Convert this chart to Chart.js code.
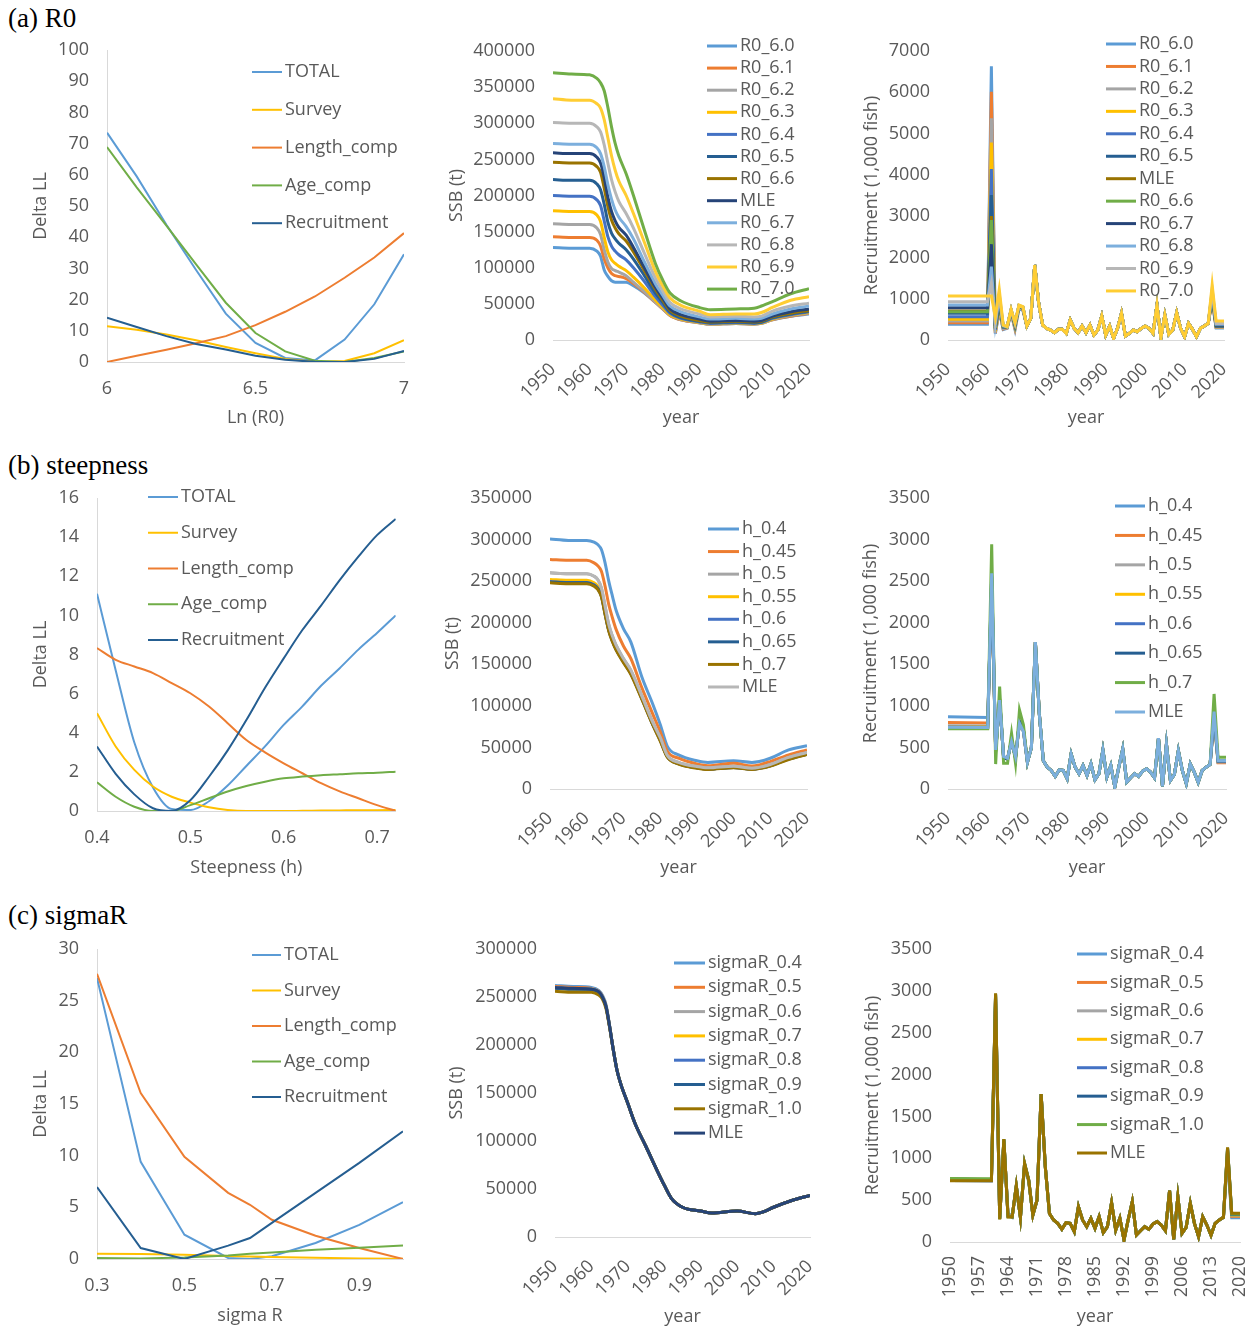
<!DOCTYPE html>
<html>
<head>
<meta charset="utf-8">
<script src="https://cdn.jsdelivr.net/npm/chart.js@4.4.1/dist/chart.umd.min.js"></script>
<style>
  body { margin: 0; background: #fff; width: 1260px; height: 1331px; position: relative; overflow: hidden; }
  canvas { position: absolute; }
  .tag { position: absolute; left: 8px; font: 27px "Liberation Serif", "Times New Roman", serif; color: #000; line-height: 1; }
</style>
</head>
<body>
<div class="tag" style="top:5px">(a) R0</div>
<div class="tag" style="top:452px">(b) steepness</div>
<div class="tag" style="top:902px">(c) sigmaR</div>
<script>
// ---------- likelihood profiles ----------
const llNames = ['TOTAL', 'Survey', 'Length_comp', 'Age_comp', 'Recruitment'];
const llColors = ['#5B9BD5', '#FFC000', '#ED7D31', '#70AD47', '#255E91'];

const r0Grid = [6.0, 6.1, 6.2, 6.3, 6.4, 6.5, 6.6, 6.7, 6.8, 6.9, 7.0];
const r0Ll = [
  [73.5, 59.5, 44, 29.5, 15.5, 6.1, 1.3, 0.5, 7.2, 18.5, 34.5],
  [11.5, 10.3, 8.8, 7, 4.8, 2.8, 1, 0.1, 0.3, 2.8, 7],
  [0, 2, 3.9, 6, 8.3, 11.8, 16.1, 21, 27, 33.5, 41.3],
  [68.9, 56, 43.7, 31.3, 19, 9.3, 3.4, 0.4, 0, 1.3, 3.4],
  [14.2, 11.2, 8.3, 5.8, 4, 2, 0.7, 0.05, 0, 1, 3.5]
];

const hGrid = [0.40, 0.42, 0.44, 0.46, 0.48, 0.50, 0.52, 0.54, 0.56, 0.58, 0.60, 0.62, 0.64, 0.66, 0.68, 0.70, 0.72];
const hLl = [
  [11.1, 7.2, 3.5, 1.2, 0.1, 0.05, 0.5, 1.3, 2.3, 3.3, 4.4, 5.35, 6.4, 7.3, 8.25, 9.1, 10.0],
  [5.0, 3.3, 2.1, 1.25, 0.73, 0.43, 0.19, 0.05, 0, 0, 0, 0.01, 0.02, 0.03, 0.04, 0.04, 0.05],
  [8.33, 7.73, 7.39, 7.05, 6.54, 6.02, 5.34, 4.49, 3.63, 3.0, 2.44, 1.93, 1.42, 1.0, 0.65, 0.3, 0],
  [1.47, 0.73, 0.22, 0, 0, 0.3, 0.65, 1.0, 1.28, 1.5, 1.67, 1.76, 1.83, 1.88, 1.93, 1.96, 2.01],
  [3.3, 1.9, 0.85, 0.14, 0, 0.55, 1.75, 3.1, 4.65, 6.3, 7.8, 9.25, 10.5, 11.8, 13.0, 14.1, 14.93]
];

const sigmaGrid = [0.3, 0.4, 0.5, 0.6, 0.65, 0.7, 0.8, 0.9, 1.0];
const sigmaLl = [
  [27.2, 9.4, 2.35, 0.1, 0, 0.26, 1.55, 3.3, 5.5],
  [0.52, 0.48, 0.4, 0.3, 0.25, 0.2, 0.12, 0.05, 0.02],
  [27.6, 16.05, 9.9, 6.4, 5.25, 3.8, 2.25, 1.06, 0],
  [0.1, 0.05, 0.15, 0.35, 0.5, 0.62, 0.9, 1.1, 1.3],
  [6.96, 1.06, 0, 1.29, 2.03, 3.5, 6.4, 9.3, 12.35]
];

// ---------- SSB ----------
const ssbYears = [1950, 1955, 1960, 1962, 1963, 1964, 1965, 1966, 1967, 1968, 1970, 1972, 1975, 1978, 1980, 1982, 1985, 1990, 1993, 2000, 2005, 2007, 2010, 2015, 2020];

const r0SsbNames = ['R0_6.0', 'R0_6.1', 'R0_6.2', 'R0_6.3', 'R0_6.4', 'R0_6.5', 'R0_6.6', 'MLE', 'R0_6.7', 'R0_6.8', 'R0_6.9', 'R0_7.0'];
const r0SsbColors = ['#5B9BD5', '#ED7D31', '#A5A5A5', '#FFC000', '#4472C4', '#255E91', '#997300', '#264478', '#7CAFDD', '#B7B7B7', '#FFCD33', '#70AD47'];
const r0Ssb = [
  [128000, 127000, 127000, 123000, 116000, 97000, 88000, 82000, 80000, 80000, 80000, 75000, 65000, 52000, 43000, 34000, 28000, 24000, 22000, 23000, 22000, 23000, 28000, 33000, 36000],
  [143000, 142000, 142000, 138000, 130000, 112000, 100000, 92000, 89000, 88000, 85000, 78000, 66000, 52000, 43000, 34000, 28000, 24000, 22000, 23000, 22000, 23000, 28000, 33000, 37000],
  [161000, 160000, 160000, 155000, 146000, 125000, 108000, 99000, 96000, 94000, 89000, 80000, 67000, 52500, 43500, 34500, 28500, 24000, 22000, 23000, 22000, 23000, 28500, 34000, 37500],
  [179000, 178000, 178000, 173000, 164000, 142000, 122000, 111000, 106000, 102000, 96000, 87000, 72000, 55000, 45000, 35000, 29000, 24500, 22500, 23500, 22500, 23500, 29000, 34500, 38000],
  [200000, 199000, 199000, 194000, 186000, 165000, 143000, 130000, 123000, 118000, 111000, 100000, 81000, 60000, 48000, 37000, 30000, 25000, 23000, 24000, 23000, 24000, 30000, 35000, 39000],
  [222000, 221000, 221000, 216000, 208000, 188000, 163000, 148000, 140000, 134000, 125000, 112000, 89000, 65000, 52000, 39000, 31000, 26000, 24000, 25000, 24000, 25000, 31000, 36000, 40000],
  [246000, 245000, 245000, 240000, 232000, 210000, 185000, 166000, 155000, 147000, 137000, 122000, 96000, 70000, 55000, 41000, 33000, 27000, 25000, 26000, 25000, 26000, 32000, 37000, 41000],
  [259000, 258000, 258000, 253000, 245000, 225000, 198000, 178000, 165000, 156000, 145000, 128000, 100000, 73000, 58000, 43000, 35000, 29000, 26000, 27000, 26000, 27000, 33000, 39000, 43000],
  [272000, 271000, 271000, 266000, 258000, 240000, 215000, 195000, 180000, 170000, 157000, 140000, 108000, 78000, 62000, 47000, 39000, 32000, 29000, 30000, 29000, 30000, 36000, 43000, 47000],
  [301000, 300000, 300000, 295000, 288000, 270000, 245000, 222000, 205000, 192000, 175000, 155000, 120000, 86000, 68000, 52000, 43000, 36000, 32000, 33000, 32000, 33000, 40000, 47000, 51000],
  [334000, 332000, 332000, 327000, 321000, 305000, 280000, 255000, 235000, 220000, 200000, 175000, 135000, 95000, 75000, 58000, 48000, 40000, 35000, 36000, 36000, 38000, 45000, 55000, 60000],
  [370000, 368000, 367000, 362000, 356000, 345000, 322000, 295000, 272000, 255000, 230000, 200000, 152000, 106000, 83000, 65000, 54000, 45000, 42000, 43000, 44000, 47000, 53000, 64000, 71000]
];

const hNames = ['h_0.4', 'h_0.45', 'h_0.5', 'h_0.55', 'h_0.6', 'h_0.65', 'h_0.7', 'MLE'];
const hSsbColors = ['#5B9BD5', '#ED7D31', '#A5A5A5', '#FFC000', '#4472C4', '#255E91', '#997300', '#B7B7B7'];
const hSsb = [
  [300700, 299000, 299000, 297000, 294000, 288000, 272000, 250000, 232000, 215000, 193000, 177000, 135000, 102000, 78000, 51000, 41000, 34000, 32000, 34000, 32000, 33000, 37000, 47000, 52000],
  [276000, 275000, 275000, 272000, 268600, 262000, 244000, 222000, 206000, 192000, 172000, 157000, 122000, 90000, 69000, 45000, 37000, 30000, 28000, 31000, 27700, 29000, 33000, 41000, 47000],
  [260000, 259000, 259000, 256000, 252000, 242000, 220000, 198000, 184000, 173000, 157000, 143000, 112000, 80000, 62000, 40000, 32000, 27000, 25500, 27500, 25000, 26000, 29500, 38000, 44000],
  [252000, 251000, 251000, 248000, 244000, 235000, 213000, 193000, 179000, 169000, 154000, 140000, 110000, 78000, 60000, 39000, 31000, 26000, 24500, 26500, 24500, 25500, 28500, 37000, 43000],
  [249500, 248500, 248500, 245500, 241500, 233000, 211000, 191000, 178000, 168000, 153000, 139000, 109000, 77500, 59000, 38500, 30500, 25500, 24000, 26000, 24000, 25000, 28000, 36500, 42500],
  [249000, 248000, 248000, 245000, 241000, 232000, 211000, 191000, 178000, 168000, 153000, 139000, 109000, 77500, 59000, 38500, 30500, 25500, 24000, 26000, 24000, 25000, 28000, 36000, 42000],
  [248000, 247000, 247000, 244000, 240000, 231000, 210000, 190000, 177000, 167000, 152000, 138000, 108000, 77000, 58000, 38000, 30000, 25000, 23500, 25500, 23500, 24500, 27500, 35500, 41500],
  [260000, 259000, 259000, 256000, 252000, 242000, 220000, 198000, 184000, 173000, 157000, 143000, 112000, 80000, 62000, 40000, 32000, 27000, 25500, 27500, 25000, 26000, 29500, 38000, 44000]
];

const sigmaNames = ['sigmaR_0.4', 'sigmaR_0.5', 'sigmaR_0.6', 'sigmaR_0.7', 'sigmaR_0.8', 'sigmaR_0.9', 'sigmaR_1.0', 'MLE'];
const sigmaSsbColors = ['#5B9BD5', '#ED7D31', '#A5A5A5', '#FFC000', '#4472C4', '#255E91', '#997300', '#264478'];
// 1950-1965 per run, then the shared path from 1966 on
const sigmaSsbHeads = [
  [262000, 261000, 260000, 257000, 252000, 242000, 220000],
  [261000, 260000, 259000, 256000, 251000, 241000, 219500],
  [260000, 259000, 258500, 255500, 250500, 240500, 219000],
  [259000, 258000, 258000, 255000, 250000, 240000, 219000],
  [259500, 258500, 258000, 255000, 250000, 240000, 219000],
  [259000, 258000, 258000, 255000, 250000, 240000, 219000],
  [256000, 255000, 255000, 252000, 248000, 238000, 218000],
  [260000, 259000, 258000, 255500, 250000, 240000, 219000]
];
const sigmaSsbTail = [195000, 174000, 160000, 139000, 118000, 94000, 69500, 54000, 40000, 31000, 27000, 25000, 27000, 24300, 26000, 31000, 38000, 43400];

// ---------- recruitment ----------
const recYears = [1950, 1960, 1961, 1962, 1963, 1964, 1965, 1966, 1967, 1968, 1969, 1970, 1971, 1972, 1973, 1974, 1975, 1976, 1977, 1978, 1979,
  1980, 1981, 1982, 1983, 1984, 1985, 1986, 1987, 1988, 1989, 1990, 1991, 1992, 1993, 1994, 1995, 1996, 1997, 1998, 1999,
  2000, 2001, 2002, 2003, 2004, 2005, 2006, 2007, 2008, 2009, 2010, 2011, 2012, 2013, 2014, 2015, 2016, 2017, 2018, 2019, 2020];
// 1970-2016, where the runs lie on top of each other
const recMid = [322, 500, 1767, 900, 340, 263, 223, 151, 231, 223, 123, 422, 263, 183, 283, 163, 302, 111, 183, 470,
  143, 283, 24, 263, 482, 84, 135, 183, 151, 215, 243, 203, 135, 613, 32, 541, 103, 175, 462, 223, 64, 302, 203, 80, 223, 263, 295];
const recMidR0 = [339, 525, 1816, 888, 363, 282, 242, 178, 258, 258, 161, 484, 282, 178, 339, 178, 363, 121, 242, 581,
  121, 339, 40, 282, 646, 97, 161, 242, 202, 282, 339, 282, 161, 847, 56, 605, 137, 242, 662, 282, 81, 403, 258, 81, 282, 339, 403];

const r0RecNames = ['R0_6.0', 'R0_6.1', 'R0_6.2', 'R0_6.3', 'R0_6.4', 'R0_6.5', 'MLE', 'R0_6.6', 'R0_6.7', 'R0_6.8', 'R0_6.9', 'R0_7.0'];
const r0RecColors = ['#5B9BD5', '#ED7D31', '#A5A5A5', '#FFC000', '#4472C4', '#255E91', '#997300', '#70AD47', '#264478', '#7CAFDD', '#B7B7B7', '#FFCD33'];
// years 1950, 1960-1969
const r0RecHeads = [
  [380, 380, 6630, 150, 700, 250, 280, 650, 250, 760, 720],
  [420, 420, 6010, 170, 730, 270, 290, 670, 280, 780, 740],
  [460, 460, 5370, 190, 760, 280, 300, 690, 300, 790, 750],
  [500, 500, 4780, 210, 800, 300, 300, 700, 320, 800, 760],
  [565, 565, 4140, 240, 850, 310, 310, 710, 340, 810, 770],
  [645, 645, 3510, 270, 900, 320, 310, 720, 360, 820, 780],
  [700, 700, 3000, 290, 940, 330, 315, 725, 370, 825, 785],
  [686, 686, 2905, 300, 950, 330, 315, 725, 370, 825, 785],
  [783, 783, 2320, 340, 1000, 340, 320, 730, 390, 830, 790],
  [847, 847, 1775, 380, 1060, 345, 320, 735, 400, 835, 795],
  [928, 928, 1370, 430, 1120, 355, 322, 740, 410, 840, 800],
  [1065, 1065, 1065, 560, 1227, 363, 323, 742, 420, 847, 807]
];
// years 2017-2020
const r0RecTails = [
  [950, 290, 290, 290], [980, 300, 300, 300], [1000, 310, 310, 310], [1020, 320, 320, 320],
  [1050, 330, 330, 330], [1080, 340, 340, 340], [1100, 345, 345, 345], [1110, 350, 350, 350],
  [1140, 360, 360, 360], [1180, 380, 380, 380], [1230, 400, 400, 400], [1332, 460, 460, 460]
];

const hRecColors = ['#5B9BD5', '#ED7D31', '#A5A5A5', '#FFC000', '#4472C4', '#255E91', '#70AD47', '#7CAFDD'];
const hRecHeads = [
  [870, 860, 2400, 480, 1050, 390, 370, 570, 390, 790, 690],
  [800, 795, 2450, 470, 1060, 385, 370, 575, 385, 795, 695],
  [760, 758, 2500, 465, 1070, 380, 365, 580, 380, 800, 700],
  [750, 748, 2520, 460, 1075, 378, 365, 582, 378, 805, 705],
  [745, 743, 2550, 455, 1080, 375, 362, 585, 375, 810, 710],
  [740, 738, 2570, 450, 1085, 372, 360, 588, 372, 815, 715],
  [726, 724, 2943, 300, 1231, 310, 310, 670, 310, 950, 770],
  [742, 740, 2594, 470, 1070, 390, 370, 570, 390, 790, 690]
];
const hRecTails = [
  [850, 320, 320, 320], [870, 317, 317, 317], [880, 325, 325, 325], [890, 330, 330, 330],
  [900, 335, 335, 335], [910, 338, 338, 338], [1143, 381, 381, 381], [930, 341, 341, 341]
];

const sigmaRecColors = ['#5B9BD5', '#ED7D31', '#A5A5A5', '#FFC000', '#4472C4', '#255E91', '#70AD47', '#997300'];
const sigmaRecHeads = [
  [760, 740, 2900, 300, 1200, 350, 300, 650, 300, 900, 720],
  [745, 735, 2930, 290, 1210, 330, 300, 660, 295, 920, 730],
  [740, 735, 2940, 285, 1215, 320, 300, 665, 292, 925, 735],
  [738, 734, 2950, 280, 1220, 315, 300, 668, 291, 930, 737],
  [736, 733, 2955, 278, 1222, 310, 300, 670, 290, 935, 738],
  [735, 733, 2960, 275, 1225, 305, 300, 671, 290, 938, 739],
  [760, 755, 2965, 272, 1228, 302, 300, 672, 290, 940, 740],
  [732, 732, 2970, 270, 1230, 300, 300, 673, 290, 940, 740]
];
const sigmaRecTails = [
  [1000, 290, 290, 290], [1050, 305, 305, 305], [1080, 315, 315, 315], [1100, 320, 320, 320],
  [1110, 325, 325, 325], [1120, 330, 330, 330], [1125, 335, 335, 335], [1130, 342, 342, 342]
];

// ---------- tick labels ----------
const decadeTicks = [1950, 1960, 1970, 1980, 1990, 2000, 2010, 2020];
const sevenYearTicks = [1950, 1957, 1964, 1971, 1978, 1985, 1992, 1999, 2006, 2013, 2020];
const r0Ticks = [6, 6.5, 7];
const hTicks = [0.4, 0.5, 0.6, 0.7];
const sigmaTicks = [0.3, 0.5, 0.7, 0.9];

// ---------- drawing ----------
const FAMILY = "'Open Sans', 'Noto Sans', sans-serif";
const FS = 18;
const TXT = '#595959';
const AXIS = '#D9D9D9';

const sideLegend = {
  id: 'sideLegend',
  afterDraw(chart, args, opts) {
    const ctx = chart.ctx;
    ctx.save();
    ctx.font = `${FS}px ${FAMILY}`;
    ctx.fillStyle = TXT;
    ctx.textBaseline = 'middle';
    chart.data.datasets.forEach((ds, i) => {
      const y = opts.y + i * opts.dy;
      ctx.strokeStyle = ds.borderColor;
      ctx.lineWidth = ds.borderWidth;
      ctx.beginPath();
      ctx.moveTo(opts.x, y);
      ctx.lineTo(opts.x + opts.len, y);
      ctx.stroke();
      ctx.fillText(ds.label, opts.x + opts.len + 3, y);
    });
    ctx.restore();
  }
};

// cell = canvas box on the page; plot = wanted chart area (page px)
function panel(p) {
  const [cx, cy, cw, ch] = p.cell;
  const [L, R, T, B] = p.plot;
  const cv = document.createElement('canvas');
  cv.width = cw;
  cv.height = ch;
  cv.style.left = cx + 'px';
  cv.style.top = cy + 'px';
  document.body.appendChild(cv);

  const half = FS * 1.2 / 2;
  const scaleLeft = p.yTitleX - half;
  const scaleBottom = p.xTitleY + half;
  const wY = L - scaleLeft;
  const hX = scaleBottom - B;
  const font = { family: FAMILY, size: FS };

  new Chart(cv, {
    type: 'line',
    data: {
      labels: p.labels,
      datasets: p.series.map((d, i) => ({
        label: p.names[i],
        data: d,
        borderColor: p.colors[i],
        backgroundColor: p.colors[i],
        borderWidth: p.lw,
        pointRadius: 0,
        pointHoverRadius: 0,
        fill: false,
        tension: 0,
        cubicInterpolationMode: p.smooth ? 'monotone' : 'default',
        order: p.series.length - i
      }))
    },
    options: {
      responsive: false,
      animation: false,
      devicePixelRatio: 1,
      events: [],
      layout: { padding: { left: scaleLeft - cx, right: cx + cw - R, top: T - cy, bottom: cy + ch - scaleBottom } },
      plugins: {
        legend: { display: false },
        tooltip: { enabled: false },
        sideLegend: { x: p.legend[0] - cx, y: p.legend[1] - cy, dy: p.legend[2], len: p.legend[3] }
      },
      scales: {
        x: {
          type: 'linear',
          min: p.xMin,
          max: p.xMax,
          grid: { display: false, drawTicks: false },
          border: { display: true, color: AXIS, width: 1 },
          ticks: {
            color: TXT, font, padding: p.xPad, autoSkip: false,
            minRotation: p.rot, maxRotation: p.rot,
            callback: v => String(v)
          },
          afterBuildTicks: s => { s.ticks = p.xTicks.map(v => ({ value: v })); },
          afterFit: s => { s.height = hX; },
          title: { display: true, text: p.xTitle, color: TXT, font, padding: 0 }
        },
        y: {
          min: 0,
          max: p.yMax,
          grid: { display: false, drawTicks: false },
          border: { display: p.yBorder, color: AXIS, width: 1 },
          ticks: { stepSize: p.yStep, color: TXT, font, padding: 18, callback: v => String(v) },
          afterFit: s => { s.width = wY; },
          title: { display: true, text: p.yTitle, color: TXT, font, padding: 0 }
        }
      }
    },
    plugins: [sideLegend]
  });
}

const join = (heads, mid, tails) => heads.map((h, i) => [...h, ...mid, ...tails[i]]);

// row (a)
panel({
  cell: [0, 0, 460, 440], plot: [107, 404, 50, 362], yTitleX: 41, xTitleY: 418,
  labels: r0Grid, series: r0Ll, names: llNames, colors: llColors, lw: 2,
  xMin: 6, xMax: 7, xTicks: r0Ticks, yMax: 100, yStep: 10, rot: 0, xPad: 16, yBorder: true,
  xTitle: 'Ln (R0)', yTitle: 'Delta LL', legend: [252, 72, 37.8, 30]
});
panel({
  cell: [420, 0, 440, 440], plot: [553, 809, 51, 340], yTitleX: 457, xTitleY: 418,
  labels: ssbYears, series: r0Ssb, names: r0SsbNames, colors: r0SsbColors, lw: 3, smooth: true,
  xMin: 1950, xMax: 2020, xTicks: decadeTicks, yMax: 400000, yStep: 50000, rot: 45, xPad: 19, yBorder: false,
  xTitle: 'year', yTitle: 'SSB (t)', legend: [707, 46, 22.1, 30]
});
panel({
  cell: [840, 0, 440, 440], plot: [948, 1224, 51, 340], yTitleX: 872, xTitleY: 418,
  labels: recYears, series: join(r0RecHeads, recMidR0, r0RecTails), names: r0RecNames, colors: r0RecColors, lw: 3,
  xMin: 1950, xMax: 2020, xTicks: decadeTicks, yMax: 7000, yStep: 1000, rot: 45, xPad: 19, yBorder: false,
  xTitle: 'year', yTitle: 'Recruitment (1,000 fish)', legend: [1106, 44, 22.45, 30]
});

// row (b)
panel({
  cell: [0, 445, 460, 438], plot: [97, 395.7, 498, 811], yTitleX: 41, xTitleY: 868,
  labels: hGrid, series: hLl, names: llNames, colors: llColors, lw: 2, smooth: true,
  xMin: 0.4, xMax: 0.72, xTicks: hTicks, yMax: 16, yStep: 2, rot: 0, xPad: 16, yBorder: true,
  xTitle: 'Steepness (h)', yTitle: 'Delta LL', legend: [148, 497, 35.75, 30]
});
panel({
  cell: [420, 445, 440, 438], plot: [550, 807, 498, 789], yTitleX: 453, xTitleY: 868,
  labels: ssbYears, series: hSsb, names: hNames, colors: hSsbColors, lw: 3, smooth: true,
  xMin: 1950, xMax: 2020, xTicks: decadeTicks, yMax: 350000, yStep: 50000, rot: 45, xPad: 19, yBorder: false,
  xTitle: 'year', yTitle: 'SSB (t)', legend: [708, 529, 22.57, 31]
});
panel({
  cell: [840, 445, 440, 438], plot: [948, 1226, 498, 789], yTitleX: 871, xTitleY: 868,
  labels: recYears, series: join(hRecHeads, recMid, hRecTails), names: hNames, colors: hRecColors, lw: 3,
  xMin: 1950, xMax: 2020, xTicks: decadeTicks, yMax: 3500, yStep: 500, rot: 45, xPad: 19, yBorder: false,
  xTitle: 'year', yTitle: 'Recruitment (1,000 fish)', legend: [1115, 506, 29.43, 30]
});

// row (c)
panel({
  cell: [0, 895, 460, 436], plot: [97, 403, 949, 1259], yTitleX: 41, xTitleY: 1316,
  labels: sigmaGrid, series: sigmaLl, names: llNames, colors: llColors, lw: 2,
  xMin: 0.3, xMax: 1.0, xTicks: sigmaTicks, yMax: 30, yStep: 5, rot: 0, xPad: 16, yBorder: true,
  xTitle: 'sigma R', yTitle: 'Delta LL', legend: [252, 955, 35.5, 29]
});
panel({
  cell: [420, 895, 440, 436], plot: [555, 810, 949, 1237], yTitleX: 457, xTitleY: 1317,
  labels: ssbYears, series: sigmaSsbHeads.map(h => [...h, ...sigmaSsbTail]), names: sigmaNames, colors: sigmaSsbColors, lw: 3, smooth: true,
  xMin: 1950, xMax: 2020, xTicks: decadeTicks, yMax: 300000, yStep: 50000, rot: 45, xPad: 19, yBorder: false,
  xTitle: 'year', yTitle: 'SSB (t)', legend: [674, 963, 24.3, 31]
});
panel({
  cell: [840, 895, 460, 436], plot: [950, 1240, 949, 1242], yTitleX: 873, xTitleY: 1317,
  labels: recYears, series: join(sigmaRecHeads, recMid, sigmaRecTails), names: sigmaNames, colors: sigmaRecColors, lw: 3,
  xMin: 1950, xMax: 2020, xTicks: sevenYearTicks, yMax: 3500, yStep: 500, rot: 90, xPad: 14, yBorder: false,
  xTitle: 'year', yTitle: 'Recruitment (1,000 fish)', legend: [1077, 954, 28.43, 30]
});
</script>
</body>
</html>
